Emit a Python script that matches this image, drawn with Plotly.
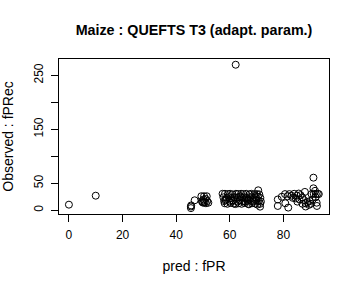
import plotly.graph_objects as go

# pred : fPR (x) and Observed : fPRec (y)
pred_fPR = [
    0.0, 10.0, 62.2,
    45.5, 45.5, 45.6, 46.9,
    49.4, 50.4, 51.4, 49.6, 50.1, 50.6, 51.1, 51.6, 52.0, 50.2, 51.0, 49.8,
    57.3, 58.2, 59.3, 60.1, 61.0, 62.3, 63.1, 64.2, 65.0, 66.1, 67.3, 68.0, 69.2, 70.1, 71.0,
    57.6, 58.8, 59.6, 60.5, 61.7, 62.6, 63.5, 64.6, 65.4, 66.4, 67.6, 68.5, 69.6, 70.5, 71.4,
    57.9, 58.4, 59.9, 60.8, 61.3, 62.9, 63.8, 64.9, 65.8, 66.7, 67.9, 68.8, 69.9, 70.8, 71.6,
    58.1, 59.1, 60.3, 61.5, 62.1, 63.3, 64.4, 65.6, 66.9, 67.1, 68.3, 69.5, 70.3, 71.3,
    70.6, 71.3, 58.6, 64.0, 67.0,
    77.9, 77.9, 79.4, 80.7, 80.6, 81.8, 82.2, 83.5, 84.0, 85.2, 85.7, 86.4, 87.1, 88.0,
    88.3, 88.3, 89.0, 89.5, 90.2, 90.5, 91.2, 91.2, 91.3, 91.8, 92.1, 92.4, 92.5, 92.8, 93.2,
    81.5, 83.0, 84.6, 86.0, 87.6, 89.8, 90.9, 92.0, 85.0, 87.0,
]
observed_fPRec = [
    10.4, 27.0, 269.6,
    4.0, 7.0, 9.0, 18.5,
    26.0, 26.0, 26.0, 17.0, 14.0, 15.0, 13.0, 17.0, 14.0, 20.0, 21.0, 15.0,
    30.5, 30.5, 30.0, 30.5, 29.5, 30.5, 30.0, 30.5, 30.0, 30.5, 29.5, 30.5, 30.0, 30.0, 29.5,
    24.0, 23.0, 24.5, 22.5, 24.0, 23.5, 24.5, 23.0, 24.0, 22.5, 24.5, 23.0, 24.0, 25.0, 23.0,
    17.0, 18.5, 16.5, 18.0, 17.5, 16.0, 18.5, 17.0, 16.5, 18.0, 17.0, 16.5, 18.5, 17.0, 16.0,
    13.0, 12.0, 13.5, 12.5, 11.5, 13.0, 12.0, 13.5, 12.0, 11.0, 13.0, 12.5, 10.5, 12.0,
    37.0, 6.7, 20.0, 26.0, 20.0,
    20.0, 8.0, 25.0, 13.0, 30.0, 5.0, 30.0, 23.0, 30.5, 16.0, 31.0, 28.0, 12.0, 34.0,
    7.0, 13.0, 15.0, 10.0, 12.0, 30.0, 60.4, 40.7, 30.5, 36.0, 30.0, 14.0, 8.0, 30.5, 30.0,
    26.0, 27.0, 22.0, 20.0, 19.0, 17.0, 20.0, 24.0, 27.0, 24.0,
]

y_tickvals = [0, 50, 100, 150, 200, 250]
y_ticktext = ["0", "50", "", "150", "", "250"]
x_tickvals = [0, 20, 40, 60, 80]

fig = go.Figure(
    go.Scatter(
        x=pred_fPR,
        y=observed_fPRec,
        mode="markers",
        marker=dict(symbol="circle-open", size=7, color="black", line=dict(width=1, color="black")),
        showlegend=False,
    )
)

font = "Liberation Sans, Arial, Helvetica, sans-serif"
fig.update_layout(
    width=360,
    height=288,
    margin=dict(l=59, r=31, t=59, b=74),
    paper_bgcolor="white",
    plot_bgcolor="white",
    font=dict(family=font, size=12, color="black"),
    title=dict(
        text="<b>Maize : QUEFTS T3 (adapt. param.)</b>",
        x=(59 + 329) / 2 / 360,
        xanchor="center",
        y=1 - 30 / 288,
        yanchor="middle",
        font=dict(family=font, size=14.3, color="black"),
    ),
)
fig.update_xaxes(
    range=[-3.7, 97.0],
    tickvals=x_tickvals,
    ticks="outside",
    ticklen=7,
    tickcolor="black",
    ticklabelstandoff=3,
    showline=True,
    linecolor="black",
    linewidth=1,
    mirror=True,
    showgrid=False,
    zeroline=False,
    automargin=False,
    title=dict(text="pred : fPR", standoff=19),
)
fig.update_yaxes(
    range=[-6.9, 280.2],
    tickvals=y_tickvals,
    ticktext=y_ticktext,
    tickangle=-90,
    ticks="outside",
    ticklen=7,
    tickcolor="black",
    ticklabelstandoff=3,
    showline=True,
    linecolor="black",
    linewidth=1,
    mirror=True,
    showgrid=False,
    zeroline=False,
    automargin=False,
    title=dict(text="Observed : fPRec", standoff=15),
)

fig.write_html("out.html")
